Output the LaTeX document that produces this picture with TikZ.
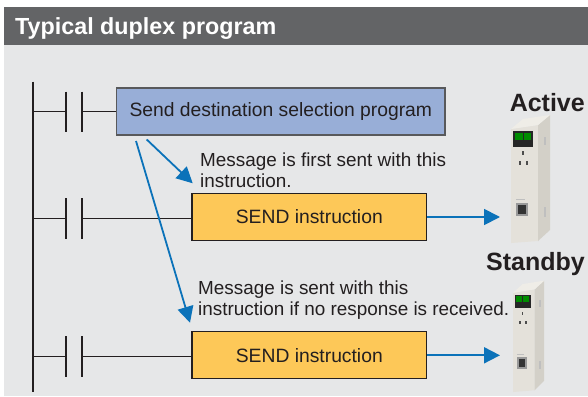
\documentclass[tikz,border=0pt]{standalone}
\usepackage{fontspec}
\setmainfont{Liberation Sans}
\usetikzlibrary{arrows.meta}
\definecolor{headgray}{HTML}{636466}
\definecolor{bodygray}{HTML}{E6E7E8}
\definecolor{progblue}{HTML}{98AED7}
\definecolor{sendyellow}{HTML}{FDC858}
\definecolor{arrowblue}{HTML}{0B72B9}
\definecolor{ink}{HTML}{231F20}
\definecolor{boxedge}{HTML}{58595B}
\definecolor{modfront}{HTML}{E4E1DA}
\definecolor{modside}{HTML}{D3D0C8}
\definecolor{modtop}{HTML}{EFEDE7}
\tikzset{
  prog/.style={draw=boxedge, line width=1.3pt, fill=progblue, minimum height=47pt,
    inner sep=0pt, text=ink, font=\fontsize{19.3}{21}\selectfont},
  sendbox/.style={prog, draw=ink, fill=sendyellow, minimum width=234.7pt},
  contact/.style={minimum width=16pt, minimum height=40pt, inner sep=0pt},
  bar/.style={draw=ink, line width=2pt},
  rung/.style={draw=ink, line width=1.5pt},
  sig/.style={draw=arrowblue, line width=1.8pt, -{Triangle[length=16pt,width=16pt]}},
  note/.style={align=left, inner sep=0pt, text=ink, font=\fontsize{18.9}{21}\selectfont},
  unitlabel/.style={anchor=base east, inner sep=0pt, text=ink,
    font=\fontsize{25}{25}\selectfont\bfseries},
  plcmodule/.pic={
    \fill[modfront] (0,0) -- (0,-114) -- (27,-118) -- (27,-2) -- cycle;
    \fill[modside] (27,-2) -- (27,-118) -- (39,-128) -- (39,-13) -- cycle;
    \fill[modtop] (0,-114) -- (12,-124) -- (39,-128) -- (27,-118) -- cycle;
    % display
    \fill[black!85] (2,-112) rectangle (22,-96);
    \fill[green!55!black] (4,-110) rectangle (11.5,-103);
    \fill[green!55!black] (12.5,-110) rectangle (20,-103);
    % leds
    \fill[black!70] (11,-92) rectangle (13,-88);
    \fill[black!70] (8,-82) rectangle (10,-78);
    \fill[black!70] (15,-82) rectangle (17,-78);
    % port
    \fill[black!25] (5,-44) rectangle (14,-43);
    \fill[black!40] (5,-40) rectangle (17,-27);
    \fill[black!80] (7,-38) rectangle (15,-29);
    % side slots
    \fill[black!25] (33,-106) rectangle (34.5,-98);
    \fill[black!25] (33,-36) rectangle (34.5,-26);
  }
}
\begin{document}
\begin{tikzpicture}[x=1pt,y=-1pt]
\useasboundingbox (0,0) rectangle (588,396);
\fill[bodygray] (4,45) rectangle (588,396);
\fill[headgray] (4,7) rectangle (588,45);
\node[anchor=base west, inner sep=0pt, text=white, font=\fontsize{23.3}{24}\selectfont\bfseries]
  (title) at (15,34.3) {Typical duplex program};

% ladder
\coordinate (railtop) at (32.7,81.7);
\coordinate (railbot) at (32.7,392);
\node[prog, minimum width=328.3pt] (select) at (280.8,111.5) {Send destination selection program};
\node[sendbox] (send1) at (309.3,217) {SEND instruction};
\node[sendbox] (send2) at (309.3,355.3) {SEND instruction};
\node[contact] (k0) at (73.7,111.7) {};
\node[contact] (k1) at (73.7,218.3) {};
\node[contact] (k2) at (73.7,356.5) {};
\path[draw,bar] (railtop) -- (railbot);
\foreach \k/\b in {k0/select,k1/send1,k2/send2} {
  \path[draw,bar] (\k.north west) -- (\k.south west) (\k.north east) -- (\k.south east);
  \path[draw,rung] (\k.west -| railtop) -- (\k.west);
  \path[draw,rung] (\k.east) -- (\k.east -| \b.west);
}

% notes
\node[note, anchor=base west] (first) at (200,187) {Message is first sent with this\\instruction.};
\node[note, anchor=base west] (retry) at (198,315.5) {Message is sent with this\\instruction if no response is received.};
\coordinate (from1) at (146.7,139.5);
\coordinate (from2) at (136,141);
\coordinate (to1) at (192.7,183.3);
\coordinate (to2) at (190,322.7);
\path[sig] (from1) -- (to1);
\path[sig] (from2) -- (to2);

% units
\node[unitlabel] (active) at (585,111.7) {Active};
\node[unitlabel] (standby) at (585,270) {Standby};
\pic at (511,243) {plcmodule};
\pic[xscale=0.8,yscale=0.87] at (513,392) {plcmodule};
\coordinate (in1) at (500,217);
\coordinate (in2) at (500,355.3);
\path[sig] (send1.east) -- (in1);
\path[sig] (send2.east) -- (in2);
\end{tikzpicture}
\end{document}
